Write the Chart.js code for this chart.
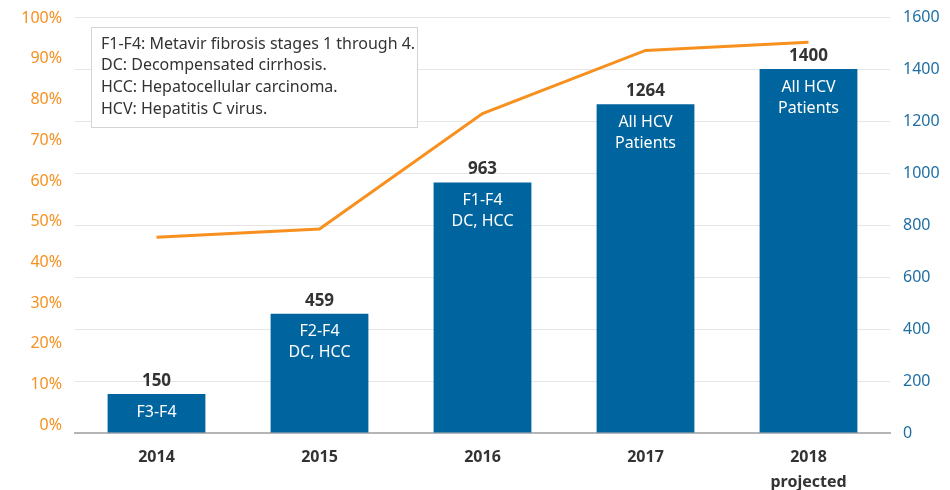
<!DOCTYPE html>
<html>
<head>
<meta charset="utf-8">
<script src="https://cdn.jsdelivr.net/npm/chart.js"></script>
<style>
  html, body { margin: 0; padding: 0; background: #fff; }
  #wrap { width: 950px; height: 490px; }
</style>
</head>
<body>
<div id="wrap"><canvas id="chart" width="950" height="490"></canvas></div>
<script>
// data
const years = [["2014"], ["2015"], ["2016"], ["2017"], ["2018", "projected"]];
const patients = [150, 459, 963, 1264, 1400];
const sharePct = [46.2, 48.2, 76.6, 92.1, 94.1];
const barNotes = [["F3-F4"], ["F2-F4", "DC, HCC"], ["F1-F4", "DC, HCC"], ["All HCV", "Patients"], ["All HCV", "Patients"]];
const legendLines = [
    "F1-F4: Metavir fibrosis stages 1 through 4.",
    "DC: Decompensated cirrhosis.",
    "HCC: Hepatocellular carcinoma.",
    "HCV: Hepatitis C virus."
];

const FONT = "'Noto Sans', 'Open Sans', sans-serif";
const BLUE = "#00649e";
const ORANGE = "#f7901e";

// labels on and above bars + the abbreviation box
const annotate = {
    id: "annotate",
    afterDatasetsDraw(chart) {
        const ctx = chart.ctx;
        const meta = chart.getDatasetMeta(1);
        ctx.save();
        ctx.textAlign = "center";
        ctx.textBaseline = "middle";
        meta.data.forEach((bar, i) => {
            ctx.fillStyle = "#333";
            ctx.font = "bold 17px " + FONT;
            ctx.fillText(String(patients[i]), bar.x, bar.y - 13);
            ctx.fillStyle = "#fff";
            ctx.font = "16px " + FONT;
            barNotes[i].forEach((t, k) => ctx.fillText(t, bar.x, bar.y + 18 + k * 21));
        });

        // abbreviation box
        const bx = 91, by = 27, bw = 326, bh = 100;
        ctx.fillStyle = "#fff";
        ctx.fillRect(bx, by, bw, bh);
        ctx.strokeStyle = "#d4d4d4";
        ctx.lineWidth = 1;
        ctx.strokeRect(bx + 0.5, by + 0.5, bw, bh);
        ctx.fillStyle = "#333";
        ctx.font = "16px " + FONT;
        ctx.textAlign = "left";
        legendLines.forEach((t, k) => ctx.fillText(t, bx + 10, by + 17 + k * 21.7));
        ctx.restore();
    }
};

new Chart(document.getElementById("chart"), {
    data: {
        labels: years,
        datasets: [
            {
                type: "line",
                data: sharePct,
                yAxisID: "yPct",
                borderColor: ORANGE,
                borderWidth: 3,
                pointRadius: 0,
                tension: 0,
                order: 0
            },
            {
                type: "bar",
                data: patients,
                yAxisID: "yPat",
                backgroundColor: BLUE,
                barPercentage: 0.6,
                categoryPercentage: 1,
                order: 1
            }
        ]
    },
    options: {
        responsive: false,
        animation: false,
        layout: { padding: { top: 17, left: 0, right: 0, bottom: 0 } },
        plugins: { legend: { display: false }, tooltip: { enabled: false } },
        scales: {
            x: {
                grid: { display: false, drawTicks: false },
                border: { display: true, color: "#b5b5b5", width: 2 },
                ticks: {
                    color: "#333",
                    font: { family: FONT, size: 16, weight: "bold", lineHeight: 1.55 },
                    padding: 12
                },
                afterFit(s) { s.height = 57; }
            },
            yPct: {
                position: "left",
                min: -1.89,
                max: 100.3,
                grid: { display: false, drawTicks: true, tickLength: 13 },
                border: { display: false },
                ticks: {
                    stepSize: 10,
                    includeBounds: false,
                    color: ORANGE,
                    padding: 0,
                    font: { family: FONT, size: 16 },
                    callback: v => v + "%"
                },
                afterFit(s) { s.width = 75; }
            },
            yPat: {
                position: "right",
                min: 0,
                max: 1600,
                grid: {
                    color: ctx => ctx.tick && ctx.tick.value === 0 ? "rgba(0,0,0,0)" : "#e6e6e6",
                    drawTicks: true,
                    tickLength: 13,
                    tickColor: "rgba(0,0,0,0)"
                },
                border: { display: false },
                ticks: {
                    stepSize: 200,
                    color: "#1f6fa3",
                    padding: 0,
                    font: { family: FONT, size: 16 },
                    callback: v => String(v)
                },
                afterFit(s) { s.width = 60; }
            }
        }
    },
    plugins: [annotate]
});
</script>
</body>
</html>
